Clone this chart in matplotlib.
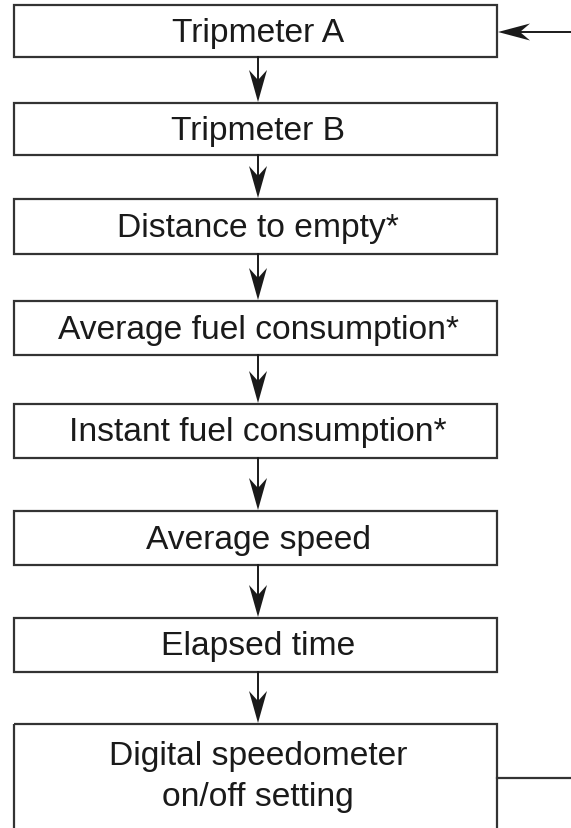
import matplotlib
matplotlib.use('Agg')
import matplotlib.pyplot as plt
from matplotlib import font_manager
from matplotlib.patches import Rectangle, Polygon

# Schema-tekst og bokse (pixel-koordinater, y nedad)
labels = ['Tripmeter A', 'Tripmeter B', 'Distance to empty*',
          'Average fuel consumption*', 'Instant fuel consumption*',
          'Average speed', 'Elapsed time', 'Digital speedometer\non/off setting']
box_top = [6, 104, 200, 302, 405, 512, 619, 725]
box_bottom = [58, 156, 255, 356, 459, 566, 673, 850]

W, H = 571, 829
x_left, x_right = 14, 497
x_mid = 258
line_col = '#333333'

# Smal Helvetica-agtig skrift hvis den findes
names = {f.name for f in font_manager.fontManager.ttflist}
if 'Liberation Sans Narrow' in names:
    fam, fsize = 'Liberation Sans Narrow', 29.5
else:
    fam, fsize = 'Liberation Sans', 24.2
plt.rcParams['font.family'] = [fam, 'DejaVu Sans']

fig = plt.figure(figsize=(W / 100, H / 100), dpi=100)
ax = fig.add_axes([0, 0, 1, 1])
ax.set_xlim(0, W)
ax.set_ylim(H, 0)
ax.axis('off')


def arrow_head(ax, tip_x, tip_y, length, width, notch, direction):
    # stealth-pil med indhak bagtil
    if direction == 'down':
        pts = [(tip_x, tip_y), (tip_x - width / 2, tip_y - length),
               (tip_x, tip_y - notch), (tip_x + width / 2, tip_y - length)]
    else:  # pil mod venstre
        pts = [(tip_x, tip_y), (tip_x + length, tip_y - width / 2),
               (tip_x + notch, tip_y), (tip_x + length, tip_y + width / 2)]
    ax.add_patch(Polygon(pts, closed=True, color='#1a1a1a', lw=0))


# Bokse og tekst
for lab, t, b in zip(labels, box_top, box_bottom):
    ax.add_patch(Rectangle((x_left, t), x_right - x_left, b - t, fill=False,
                           ec=line_col, lw=1.6))
    cy = (t + b) / 2 + 1 if b < H else 777
    ax.text(x_mid, cy, lab, ha='center', va='center', fontsize=fsize,
            color='#1a1a1a', linespacing=1.4)

# Pile mellem boksene
for i in range(len(box_top) - 1):
    y0 = box_bottom[i]
    y1 = box_top[i + 1]
    ax.plot([x_mid, x_mid], [y0, y1 - 20], color='#1a1a1a', lw=1.4)
    arrow_head(ax, x_mid, y1 - 1, 32, 18, 22, 'down')

# Returlinje i højre side
ax.plot([x_right + 22, W], [33, 33], color='#1a1a1a', lw=1.4)
arrow_head(ax, x_right + 1, 33, 32, 17, 22, 'left')
ax.plot([x_right, W], [779, 779], color=line_col, lw=1.6)

fig.savefig('out.png', dpi=100, facecolor='white')
